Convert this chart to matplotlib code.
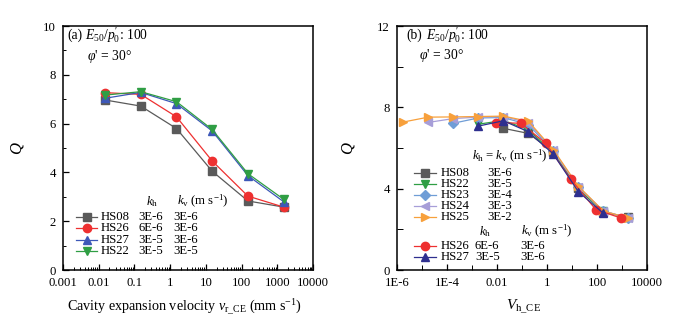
"""Q versus cavity expansion velocity, two panels (a) and (b)."""
import numpy as np
import matplotlib
matplotlib.use("Agg")
from matplotlib import pyplot as plt
from matplotlib.ticker import FixedLocator, FuncFormatter, LogLocator, NullFormatter

# ---- data, panel (a): Q vs v_r_CE (mm/s)
v_a = [0.015, 0.15, 1.5, 15, 150, 1500]
q_hs08_a = [6.97, 6.72, 5.80, 4.05, 2.83, 2.58]
q_hs26_a = [7.27, 7.20, 6.28, 4.47, 3.03, 2.58]
q_hs27_a = [7.04, 7.28, 6.82, 5.70, 3.87, 2.80]
q_hs22_a = [7.17, 7.31, 6.90, 5.76, 3.95, 2.90]

# ---- data, panel (b): Q vs V_h_CE
v_hs08_b = [0.018, 0.18, 1.8, 18, 180, 1800]
q_hs08_b = [6.97, 6.72, 5.80, 4.05, 2.83, 2.60]
v_hs22_b = [0.0018, 0.018, 0.18, 1.8, 18, 180]
q_hs22_b = [7.17, 7.36, 6.90, 5.76, 3.95, 2.90]
v_hs23_b = [1.8e-4, 1.8e-3, 0.018, 0.18, 1.8, 18, 180, 1800]
q_hs23_b = [7.22, 7.48, 7.50, 7.15, 5.85, 4.08, 2.90, 2.56]
v_hs24_b = [1.8e-5, 1.8e-4, 1.8e-3, 0.018, 0.18, 1.8, 18, 180, 1800]
q_hs24_b = [7.26, 7.45, 7.52, 7.55, 7.25, 5.88, 4.08, 2.90, 2.56]
v_hs25_b = [1.8e-6, 1.8e-5, 1.8e-4, 1.8e-3, 0.018, 0.18, 1.8, 18, 180, 1800]
q_hs25_b = [7.28, 7.52, 7.53, 7.55, 7.57, 7.32, 5.92, 4.12, 2.90, 2.56]
v_hs26_b = [0.009, 0.09, 0.9, 9, 90, 900]
q_hs26_b = [7.25, 7.22, 6.23, 4.46, 2.97, 2.56]
v_hs27_b = [0.0018, 0.018, 0.18, 1.8, 18, 180]
q_hs27_b = [7.08, 7.34, 6.80, 5.70, 3.85, 2.79]

# legend texts
labels_a = [("HS08", "3E-6", "3E-6"), ("HS26", "6E-6", "3E-6"),
            ("HS27", "3E-5", "3E-6"), ("HS22", "3E-5", "3E-5")]
labels_b_top = [("HS08", "3E-6"), ("HS22", "3E-5"), ("HS23", "3E-4"),
                ("HS24", "3E-3"), ("HS25", "3E-2")]
labels_b_bot = [("HS26", "6E-6", "3E-6"), ("HS27", "3E-5", "3E-6")]

colors = {"gray": "#5a5a5a", "red": "#ee3030", "blue": "#3d58b8", "green": "#2f9e44",
          "navy": "#2e2f8f", "lightblue": "#6f9dd6", "lavender": "#a79ed8", "orange": "#f7a03c"}

plt.rcParams["font.family"] = "serif"
plt.rcParams["font.serif"] = ["Liberation Serif", "DejaVu Serif"]
plt.rcParams["mathtext.fontset"] = "custom"
plt.rcParams["mathtext.rm"] = "Liberation Serif"
plt.rcParams["mathtext.it"] = "Liberation Serif:italic"
plt.rcParams["font.size"] = 9

fig = plt.figure(figsize=(6.88, 3.27), dpi=100)
ax_a = fig.add_axes([0.0916, 0.1743, 0.3634, 0.746])
ax_b = fig.add_axes([0.577, 0.1743, 0.3634, 0.746])

lw = 0.9
ms = 6
fs_leg = 9.2
fs_ann = 9.8


def style_axes(ax):
    for sp in ax.spines.values():
        sp.set_linewidth(1.1)
    ax.tick_params(which="both", direction="in", top=False, right=False, labelsize=9.2)
    ax.tick_params(which="major", length=4, width=0.9, pad=5)
    ax.tick_params(which="minor", length=2, width=0.7)


def legend_row(ax, y, x0, x1, color, marker, texts, msize=ms):
    ax.plot([x0, (x0 + x1) / 2, x1], [y, y, y], transform=ax.transAxes, color=color,
            lw=lw, marker=marker, ms=msize, markevery=[1], clip_on=False)
    for tx, s in texts:
        ax.text(tx, y, s, transform=ax.transAxes, ha="left", va="center", fontsize=fs_leg)


# ---------------- panel (a)
ax = ax_a
ax.plot(v_a, q_hs08_a, color=colors["gray"], marker="s", lw=lw, ms=ms - 0.5)
ax.plot(v_a, q_hs26_a, color=colors["red"], marker="o", lw=lw, ms=ms)
ax.plot(v_a, q_hs27_a, color=colors["blue"], marker="^", lw=lw, ms=ms)
ax.plot(v_a, q_hs22_a, color=colors["green"], marker="v", lw=lw, ms=ms)
ax.set_xscale("log")
ax.set_xlim(1e-3, 1e4)
ax.set_ylim(0, 10)
ax.xaxis.set_major_locator(LogLocator(base=10, numticks=20))
ax.xaxis.set_minor_locator(LogLocator(base=10, subs=np.arange(2, 10), numticks=20))
ax.xaxis.set_major_formatter(FuncFormatter(lambda v, p: f"{v:g}"))
ax.xaxis.set_minor_formatter(NullFormatter())
ax.yaxis.set_major_locator(FixedLocator([0, 2, 4, 6, 8, 10]))
ax.yaxis.set_minor_locator(FixedLocator([1, 3, 5, 7, 9]))
style_axes(ax)
ax.set_xlabel(r"Cavity expansion velocity $v_{\mathrm{r\_CE}}$ (mm s$^{-1}$)", fontsize=10.2)
ax.xaxis.set_label_coords(0.484, -0.112)
ax.set_ylabel("$Q$", fontsize=12)
ax.yaxis.set_label_coords(-0.15, 0.5)
ax.text(0.016, 0.963, "(a)", transform=ax.transAxes, va="center", fontsize=fs_ann)
ax.text(0.088, 0.963, r"$E_{50}/p_0^{\prime}$: 100", transform=ax.transAxes, va="center", fontsize=fs_ann)
ax.text(0.097, 0.874, r"$\varphi$' = 30°", transform=ax.transAxes, va="center", fontsize=fs_ann)

ax.text(0.331, 0.28, r"$k_{\mathrm{h}}$", transform=ax.transAxes, va="center", fontsize=fs_leg)
ax.text(0.455, 0.28, r"$k_{\mathrm{v}}$ (m s$^{-1}$)", transform=ax.transAxes, va="center", fontsize=fs_leg)
rows_a = [0.216, 0.171, 0.125, 0.079]
style_a = [(colors["gray"], "s"), (colors["red"], "o"), (colors["blue"], "^"), (colors["green"], "v")]
for y, (c, m), (name, kh, kv) in zip(rows_a, style_a, labels_a):
    legend_row(ax, y, 0.052, 0.136, c, m, [(0.152, name), (0.30, kh), (0.44, kv)])

# ---------------- panel (b)
ax = ax_b
ax.plot(v_hs08_b, q_hs08_b, color=colors["gray"], marker="s", lw=lw, ms=ms - 0.5)
ax.plot(v_hs22_b, q_hs22_b, color=colors["green"], marker="v", lw=lw, ms=ms)
ax.plot(v_hs23_b, q_hs23_b, color=colors["lightblue"], marker="D", lw=lw, ms=ms - 1)
ax.plot(v_hs24_b, q_hs24_b, color=colors["lavender"], marker="<", lw=lw, ms=ms)
ax.plot(v_hs25_b, q_hs25_b, color=colors["orange"], marker=">", lw=lw, ms=ms)
ax.plot(v_hs26_b, q_hs26_b, color=colors["red"], marker="o", lw=lw, ms=ms)
ax.plot(v_hs27_b, q_hs27_b, color=colors["navy"], marker="^", lw=lw, ms=ms)
ax.set_xscale("log")
ax.set_xlim(1e-6, 1e4)
ax.set_ylim(0, 12)
ax.xaxis.set_major_locator(FixedLocator([1e-6, 1e-4, 1e-2, 1, 1e2, 1e4]))
ax.xaxis.set_minor_locator(FixedLocator([1e-5, 1e-3, 1e-1, 10, 1e3]))
ax.xaxis.set_major_formatter(FuncFormatter(
    lambda v, p: {1e-6: "1E-6", 1e-4: "1E-4"}.get(v, f"{v:g}")))
ax.xaxis.set_minor_formatter(NullFormatter())
ax.yaxis.set_major_locator(FixedLocator([0, 4, 8, 12]))
ax.yaxis.set_minor_locator(FixedLocator([2, 6, 10]))
style_axes(ax)
ax.tick_params(axis="x", which="minor", length=3.5)
ax.tick_params(axis="y", which="minor", length=4)
ax.set_xlabel(r"$V_{\mathrm{h\_CE}}$", fontsize=11)
ax.xaxis.set_label_coords(0.508, -0.115)
ax.set_ylabel("$Q$", fontsize=12)
ax.yaxis.set_label_coords(-0.16, 0.5)
ax.text(0.036, 0.963, "(b)", transform=ax.transAxes, va="center", fontsize=fs_ann)
ax.text(0.115, 0.963, r"$E_{50}/p_0^{\prime}$: 100", transform=ax.transAxes, va="center", fontsize=fs_ann)
ax.text(0.088, 0.88, r"$\varphi$' = 30°", transform=ax.transAxes, va="center", fontsize=fs_ann)

ax.text(0.300, 0.464, r"$k_{\mathrm{h}}$ = $k_{\mathrm{v}}$ (m s$^{-1}$)", transform=ax.transAxes,
        va="center", fontsize=fs_leg)
rows_b_top = [0.396, 0.351, 0.306, 0.261, 0.216]
style_b_top = [(colors["gray"], "s"), (colors["green"], "v"), (colors["lightblue"], "D"),
               (colors["lavender"], "<"), (colors["orange"], ">")]
for y, (c, m), (name, k) in zip(rows_b_top, style_b_top, labels_b_top):
    legend_row(ax, y, 0.068, 0.155, c, m, [(0.175, name), (0.361, k)],
               msize=ms - 1 if m == "D" else ms)

ax.text(0.330, 0.157, r"$k_{\mathrm{h}}$", transform=ax.transAxes, va="center", fontsize=fs_leg)
ax.text(0.495, 0.157, r"$k_{\mathrm{v}}$ (m s$^{-1}$)", transform=ax.transAxes, va="center", fontsize=fs_leg)
rows_b_bot = [0.098, 0.055]
style_b_bot = [(colors["red"], "o"), (colors["navy"], "^")]
for y, (c, m), (name, kh, kv) in zip(rows_b_bot, style_b_bot, labels_b_bot):
    legend_row(ax, y, 0.068, 0.155, c, m, [(0.175, name), (0.312, kh), (0.495, kv)])

fig.savefig("out.png", dpi=100)
